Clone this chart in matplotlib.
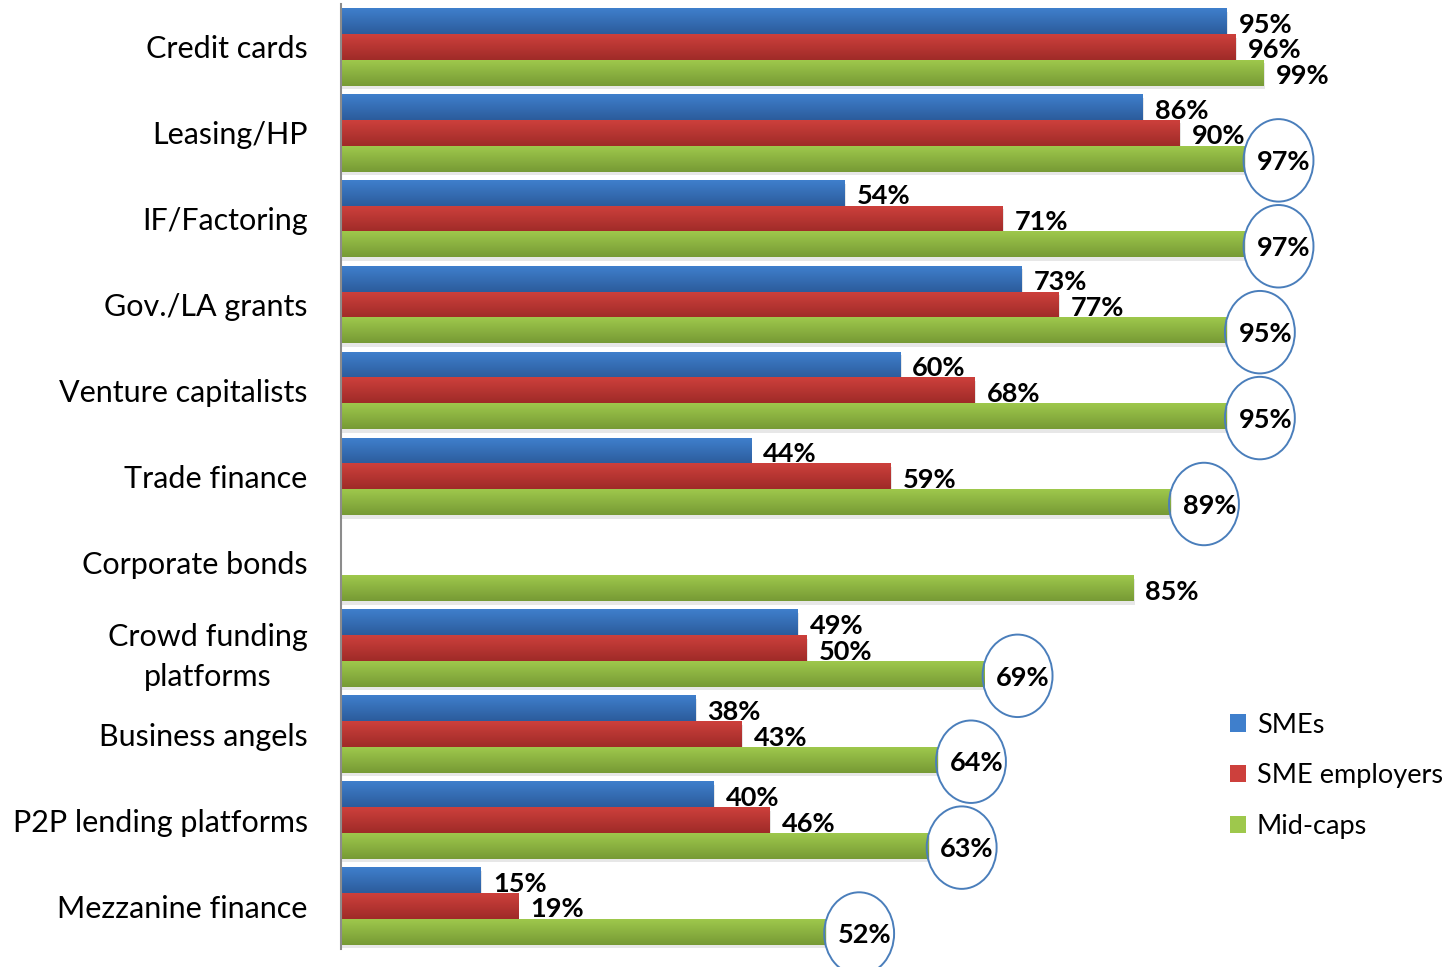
import numpy as np
import matplotlib
matplotlib.use("Agg")
import matplotlib.pyplot as plt
from matplotlib.patches import Ellipse, Patch
from matplotlib.colors import LinearSegmentedColormap

plt.rcParams["font.family"] = ["Lato", "DejaVu Sans"]

categories = ["Credit cards", "Leasing/HP", "IF/Factoring", "Gov./LA grants",
              "Venture capitalists", "Trade finance", "Corporate bonds",
              "Crowd funding\nplatforms", "Business angels",
              "P2P lending platforms", "Mezzanine finance"]
smes = [95, 86, 54, 73, 60, 44, np.nan, 49, 38, 40, 15]
sme_employers = [96, 90, 71, 77, 68, 59, np.nan, 50, 43, 46, 19]
mid_caps = [99, 97, 97, 95, 95, 89, 85, 69, 64, 63, 52]
# mid-cap figures that are ringed
ringed = [False, True, True, True, True, True, False, True, True, True, True]

series = [
    ("SMEs", smes, "#3f7fcc", "#2c5c9c"),
    ("SME employers", sme_employers, "#cd403c", "#9f2b28"),
    ("Mid-caps", mid_caps, "#9ec84c", "#779a35"),
]

fig = plt.figure(figsize=(14.5, 9.67), dpi=100)
ax = fig.add_axes([341 / 1450, 18 / 967, 1109 / 1450, 945 / 967])

y = np.arange(len(categories))
h = 0.3
for k, (name, vals, top, bottom) in enumerate(series):
    offs = (k - 1) * h
    cmap = LinearSegmentedColormap.from_list(name, [top, bottom])
    grad = np.linspace(0, 1, 64).reshape(-1, 1)
    bars = ax.barh(y + offs, vals, height=h, color="none", edgecolor="none")
    for bar, v in zip(bars, vals):
        if np.isnan(v):
            continue
        x0, y0, w, hh = bar.get_x(), bar.get_y(), bar.get_width(), bar.get_height()
        # soft drop shadow under each bar
        ax.fill_between([x0, x0 + w + 0.15], y0 + 0.04, y0 + hh + 0.04,
                        color="#c4c4c4", alpha=0.4, lw=0, zorder=1)
        ax.imshow(grad, cmap=cmap, extent=(x0, x0 + w, y0 + hh, y0),
                  aspect="auto", interpolation="bicubic", zorder=2)
        ax.text(v + 1.3, y0 + hh / 2 + 0.04, f"{v:.0f}%", ha="left", va="center",
                fontsize=19.5, fontweight="bold", color="black", zorder=4)

for i, (v, r) in enumerate(zip(mid_caps, ringed)):
    if r:
        ax.add_patch(Ellipse((v + 3.6, i + h + 0.02), 7.5, 0.96, fill=False,
                             edgecolor="#4a7ebb", lw=1.4, zorder=5, clip_on=False))

ax.set_xlim(0, 119)
ax.set_ylim(len(categories) - 0.5, -0.5)
ax.set_yticks(y)
ax.set_yticklabels(categories, fontsize=22, multialignment="center", linespacing=1.55)
ax.tick_params(axis="y", length=0, pad=24)
ax.set_xticks([])
for s in ["top", "right", "bottom"]:
    ax.spines[s].set_visible(False)
ax.spines["left"].set_color("#8c8c8c")
ax.spines["left"].set_linewidth(1.5)
ax.spines["left"].set_zorder(6)

handles = [Patch(facecolor=t, edgecolor="none", label=n) for n, _, t, b in series]
ax.legend(handles=handles, loc="upper left", bbox_to_anchor=(1216 / 1450, 1 - 699 / 967),
          bbox_transform=fig.transFigure, frameon=False, fontsize=19.5,
          handlelength=0.6, handleheight=0.6, handletextpad=0.4, labelspacing=0.95,
          borderpad=0)

fig.savefig("out.png", dpi=100)
